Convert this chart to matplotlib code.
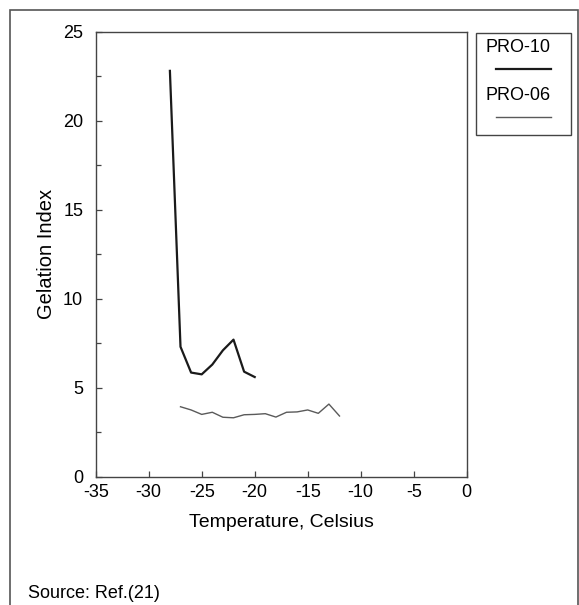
import numpy as np
import matplotlib.pyplot as plt
from matplotlib.patches import Rectangle
from matplotlib.lines import Line2D

temp_10 = [-28, -27, -26, -25, -24, -23, -22, -21, -20]
gel_10 = [22.8, 7.3, 5.85, 5.75, 6.3, 7.1, 7.7, 5.9, 5.6]

temp_06 = [-27, -26, -25, -24, -23, -22, -21, -20, -19, -18, -17, -16,
           -15, -14, -13, -12]
gel_06 = [3.93, 3.75, 3.5, 3.62, 3.34, 3.31, 3.48, 3.5, 3.54, 3.35, 3.62,
          3.64, 3.75, 3.56, 4.08, 3.41]

xticks = [-35, -30, -25, -20, -15, -10, -5, 0]
yticks = [0, 5, 10, 15, 20, 25]

plt.rcParams['font.family'] = ['Liberation Sans', 'DejaVu Sans']
plt.rcParams['axes.unicode_minus'] = False

fig = plt.figure(figsize=(5.79, 6.05), dpi=100)
W, H = 579, 605

# outer frame (right and bottom edges run off the picture)
fig.patches.append(Rectangle((9.5 / W, -0.05), (578 - 9.5) / W, 1.05 - 10.5 / H,
                             transform=fig.transFigure, fill=False,
                             edgecolor='#555555', linewidth=1.2))

ax = fig.add_axes([95.7 / W, 1 - 476.7 / H, (466.7 - 95.7) / W,
                   (476.7 - 31.7) / H])
ax.plot(temp_10, gel_10, color='#1a1a1a', linewidth=1.6)
ax.plot(temp_06, gel_06, color='#5a5a5a', linewidth=1.0)

ax.set_xlim(-35, 0)
ax.set_ylim(0, 25)
ax.set_xticks(xticks)
ax.set_yticks(yticks)
ax.set_yticks(np.arange(2.5, 25, 5), minor=True)
ax.tick_params(direction='in', length=4, width=0.9, color='#444444',
               labelsize=13, pad=5.5)
ax.tick_params(which='minor', direction='in', length=3.5, width=0.9,
               color='#444444')
ax.tick_params(axis='y', pad=9)
for s in ax.spines.values():
    s.set_color('#444444')
    s.set_linewidth(1.0)
ax.set_xlabel('Temperature, Celsius', fontsize=14, labelpad=9)
ax.set_ylabel('Gelation Index', fontsize=14.5, labelpad=5)

# legend box drawn to match the original layout
fig.patches.append(Rectangle((476 / W, 1 - 135 / H), 95 / W, 102 / H,
                             transform=fig.transFigure, fill=False,
                             edgecolor='#444444', linewidth=1.0))
fig.text(518 / W, 1 - 48 / H, 'PRO-10', ha='center', va='center',
         fontsize=13)
fig.lines.append(Line2D([496 / W, 551 / W], [1 - 69 / H, 1 - 69 / H],
                        transform=fig.transFigure, color='#1a1a1a',
                        linewidth=1.6))
fig.text(518 / W, 1 - 96 / H, 'PRO-06', ha='center', va='center',
         fontsize=13)
fig.lines.append(Line2D([496 / W, 551 / W], [1 - 117 / H, 1 - 117 / H],
                        transform=fig.transFigure, color='#5a5a5a',
                        linewidth=1.0))

fig.text(28 / W, 1 - 594 / H, 'Source: Ref.(21)', ha='left', va='center',
         fontsize=13)

fig.savefig('out.png', dpi=100)
